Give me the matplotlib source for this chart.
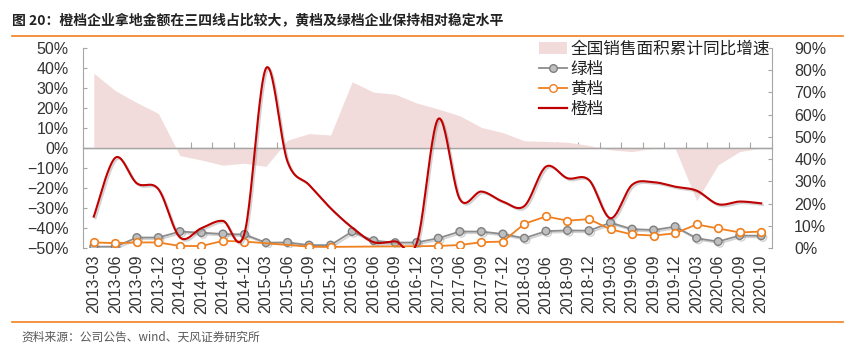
import numpy as np
import matplotlib
matplotlib.use("Agg")
import matplotlib.pyplot as plt
from matplotlib.lines import Line2D
from matplotlib.patches import Patch
import matplotlib.patheffects as pe

plt.rcParams['font.family'] = ['Liberation Sans', 'Noto Sans CJK SC', 'DejaVu Sans']

categories = ['2013-03', '2013-06', '2013-09', '2013-12', '2014-03', '2014-06', '2014-09', '2014-12',
              '2015-03', '2015-06', '2015-09', '2015-12', '2016-03', '2016-06', '2016-09', '2016-12',
              '2017-03', '2017-06', '2017-09', '2017-12', '2018-03', '2018-06', '2018-09', '2018-12',
              '2019-03', '2019-06', '2019-09', '2019-12', '2020-03', '2020-06', '2020-09', '2020-10']

# national sales area cumulative YoY growth (%), left axis
sales_growth = [37.4, 28.7, 22.7, 17.3, -3.8, -6.0, -8.6, -7.6,
                -9.2, 3.9, 7.2, 6.5, 33.1, 27.9, 26.9, 22.5,
                19.5, 16.1, 10.3, 7.7, 3.6, 3.3, 2.9, 1.3,
                -0.9, -1.8, -0.1, -0.1, -26.3, -8.4, -1.8, 0.0]

# share (%) in tier-3/4 cities, right axis
green = [0.6, 0.6, 4.7, 4.7, 7.4, 6.9, 6.3, 6.1,
         2.4, 2.5, 1.3, 1.3, 7.4, 3.3, 2.4, 2.5,
         4.4, 7.4, 7.4, 6.3, 4.4, 7.6, 7.9, 7.8,
         11.4, 8.5, 8.1, 9.6, 4.4, 2.9, 5.6, 5.5]
yellow = [2.5, 2.2, 2.5, 2.5, 0.9, 0.9, 3.2, 2.9,
          np.nan, np.nan, 0.6, 0.5, np.nan, np.nan, np.nan, np.nan,
          0.9, 1.35, 2.6, 2.9, 10.9, 14.2, 12.3, 13.0,
          8.4, 6.1, 5.6, 6.6, 10.6, 8.8, 7.0, 7.4]
orange = [14.1, 40.6, 29.1, 26.5, 4.8, 8.9, 12.2, 6.6,
          80.9, 38.8, 28.4, 17.9, 9.2, 2.6, 3.0, 2.2,
          58.1, 22.0, 25.4, 20.9, 18.9, 36.6, 31.4, 30.6,
          13.4, 28.4, 29.6, 27.6, 25.8, 19.7, 20.9, 20.1]

left_ticks = [-50, -40, -30, -20, -10, 0, 10, 20, 30, 40, 50]
right_ticks = [0, 10, 20, 30, 40, 50, 60, 70, 80, 90]

title = '图 20：橙档企业拿地金额在三四线占比较大，黄档及绿档企业保持相对稳定水平'
source = '资料来源：公司公告、wind、天风证券研究所'
legend_labels = ['全国销售面积累计同比增速', '绿档', '黄档', '橙档']


def smooth(x, y, n=24):
    pts = np.column_stack([x, y]).astype(float)
    P = np.vstack([pts[0], pts, pts[-1]])
    out = []
    t = np.linspace(0, 1, n, endpoint=False)[:, None]
    for i in range(len(pts) - 1):
        p0, p1, p2, p3 = P[i], P[i + 1], P[i + 2], P[i + 3]
        c1 = p1 + (p2 - p0) / 6
        c2 = p2 - (p3 - p1) / 6
        b = (1 - t) ** 3 * p1 + 3 * (1 - t) ** 2 * t * c1 + 3 * (1 - t) * t ** 2 * c2 + t ** 3 * p2
        out.append(b)
    out.append(pts[-1:])
    o = np.vstack(out)
    return o[:, 0], o[:, 1]


fig = plt.figure(figsize=(8.58, 3.52), dpi=100)
ax = fig.add_axes([83 / 858, 1 - 248 / 352, (772 - 83) / 858, 200 / 352])
ax2 = ax.twinx()

x = np.arange(len(categories))
pink = '#F2DCDB'
ax.fill_between(x, 0, sales_growth, color=pink, linewidth=0, zorder=1)
ax.axhline(0, color='#A6A6A6', lw=1.0, zorder=2)
ax.set_ylim(-50, 50)
ax.set_xlim(-0.5, len(categories) - 0.5)
ax.set_yticks(left_ticks)
ax.set_yticklabels([f'{v}%'.replace('-', '\u2212') for v in left_ticks])
ax.set_xticks(x)
ax.set_xticklabels(categories, rotation=90)
ax.tick_params(axis='x', length=0, pad=5, labelsize=11.5, colors='#333333')
ax.tick_params(axis='y', direction='in', length=3, color='#A6A6A6', labelsize=11.5, labelcolor='#333333', pad=10.5)
for s in ['top', 'bottom', 'right']:
    ax.spines[s].set_visible(False)
ax.spines['left'].set_color('#A6A6A6')

sec = ax.secondary_xaxis(0.5)
sec.set_xticks(np.arange(len(categories) + 1) - 0.5)
sec.set_xticklabels([])
sec.tick_params(direction='out', length=4, color='#A6A6A6')
sec.spines['bottom'].set_visible(False)

shadow = [pe.SimpleLineShadow(offset=(1.2, -1.2), shadow_color='#808080', alpha=0.35), pe.Normal()]

g = np.array(green, dtype=float)
ax2.plot(x, g, color='#8C8C8C', lw=1.3, marker='o', ms=5.5, mfc='#BFBFBF', mec='#7F7F7F', mew=1.0,
         zorder=3, path_effects=shadow)
yv = np.array(yellow, dtype=float)
m = ~np.isnan(yv)
ax2.plot(x[m], yv[m], color='#F07F1E', lw=1.3, marker='o', ms=5.5, mfc='white', mec='#F07F1E', mew=1.2,
         zorder=4)
sx, sy = smooth(x, orange)
ax2.plot(sx, sy, color='#C00000', lw=1.5, zorder=5, path_effects=shadow)

ax2.set_ylim(0, 90)
ax2.set_yticks(right_ticks)
ax2.set_yticklabels([f'{v}%' for v in right_ticks])
ax2.tick_params(axis='y', direction='in', length=3, color='#A6A6A6', labelsize=11.5, labelcolor='#333333', pad=16)
for s in ['top', 'bottom', 'left']:
    ax2.spines[s].set_visible(False)
ax2.spines['right'].set_color('#A6A6A6')

handles = [Patch(facecolor=pink, edgecolor='none'),
           Line2D([], [], color='#8C8C8C', lw=1.3, marker='o', ms=5.5, mfc='#BFBFBF', mec='#7F7F7F'),
           Line2D([], [], color='#F07F1E', lw=1.3, marker='o', ms=5.5, mfc='white', mec='#F07F1E'),
           Line2D([], [], color='#C00000', lw=1.6)]
leg = ax2.legend(handles, legend_labels, loc='upper right', bbox_to_anchor=(770 / 858, 1 - 41 / 352),
                 bbox_transform=fig.transFigure, frameon=False, handlelength=1.7, handletextpad=0.2,
                 labelspacing=0.18, borderpad=0, borderaxespad=0,
                 prop={'family': ['Noto Sans CJK SC', 'DejaVu Sans'], 'size': 12})
for t in leg.get_texts():
    t.set_color('#222222')

fig.text(12 / 858, 1 - 20 / 352, title, ha='left', va='center', fontsize=10, fontweight='bold',
         family=['Noto Sans CJK SC', 'DejaVu Sans'], color='#222222')
fig.add_artist(Line2D([12 / 858, 843 / 858], [1 - 36 / 352, 1 - 36 / 352], color='#F07F1E', lw=1.2,
                      transform=fig.transFigure))
fig.add_artist(Line2D([12 / 858, 843 / 858], [1 - 322 / 352, 1 - 322 / 352], color='#F07F1E', lw=1.2,
                      transform=fig.transFigure))
fig.text(21 / 858, 1 - 337 / 352, source, ha='left', va='center', fontsize=8.5,
         family=['Noto Sans CJK SC', 'DejaVu Sans'], color='#595959')

fig.savefig('out.png', dpi=100)
